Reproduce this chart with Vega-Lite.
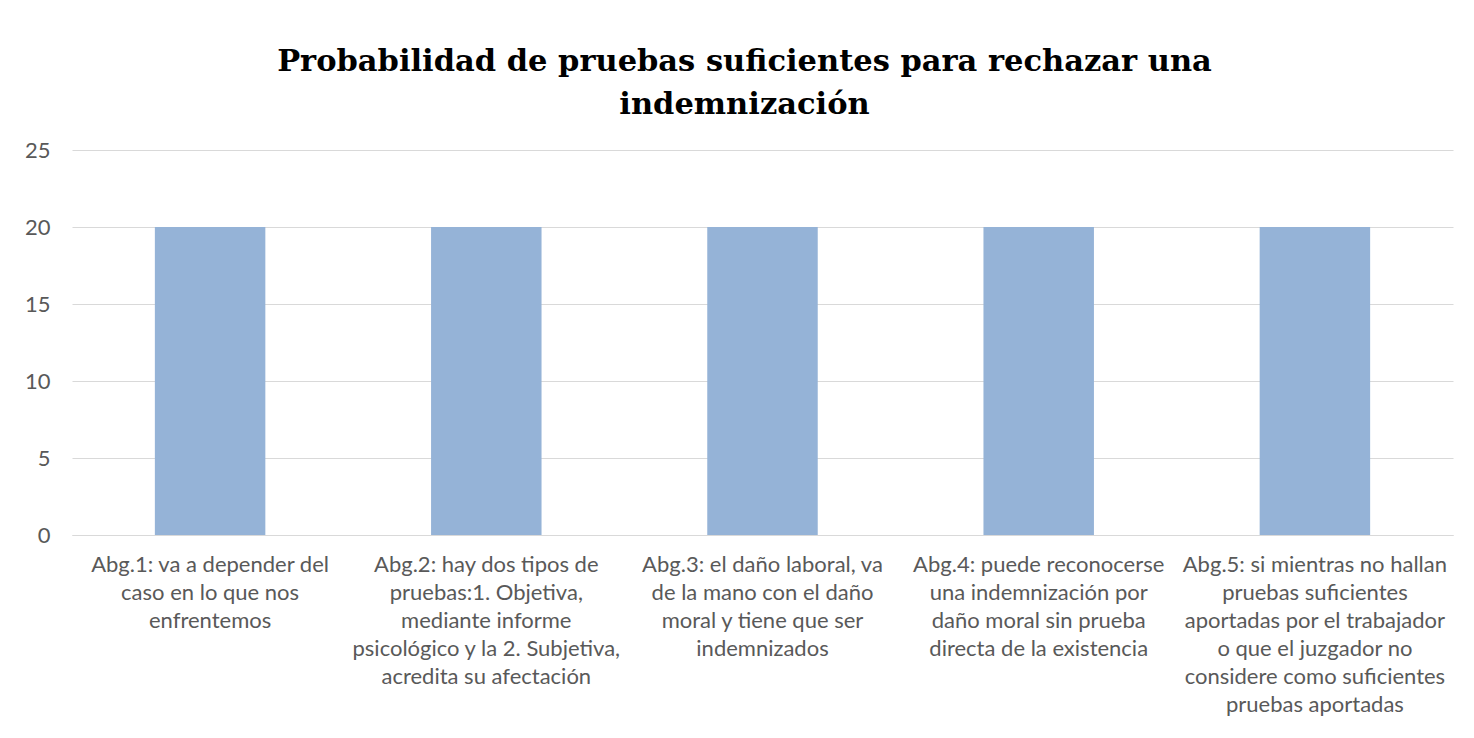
{
  "$schema": "https://vega.github.io/schema/vega-lite/v6.json",
  "width": 1381,
  "height": 385,
  "autosize": {"type": "none"},
  "padding": {"left": 72, "top": 150, "right": 21, "bottom": 203},
  "background": "white",
  "title": {
    "text": ["Probabilidad de pruebas suficientes para rechazar una", "indemnización"],
    "font": "DejaVu Serif",
    "fontSize": 30.5,
    "fontWeight": "bold",
    "color": "#000000",
    "anchor": "middle",
    "frame": "group",
    "dx": -18,
    "offset": -11,
    "lineHeight": 43,
    "baseline": "bottom"
  },
  "data": {
    "values": [
      {"abogado": "Abg.1: va a depender del\ncaso en lo que nos\nenfrentemos", "valor": 20},
      {"abogado": "Abg.2: hay dos tipos de\npruebas:1. Objetiva,\nmediante informe\npsicológico y la 2. Subjetiva,\nacredita su afectación", "valor": 20},
      {"abogado": "Abg.3: el daño laboral, va\nde la mano con el daño\nmoral y tiene que ser\nindemnizados", "valor": 20},
      {"abogado": "Abg.4: puede reconocerse\nuna indemnización por\ndaño moral sin prueba\ndirecta de la existencia", "valor": 20},
      {"abogado": "Abg.5: si mientras no hallan\npruebas suficientes\naportadas por el trabajador\no que el juzgador no\nconsidere como suficientes\npruebas aportadas", "valor": 20}
    ]
  },
  "mark": {"type": "bar", "color": "#95B3D7"},
  "encoding": {
    "x": {
      "field": "abogado",
      "type": "nominal",
      "sort": null,
      "scale": {"paddingInner": 0.6, "paddingOuter": 0.3},
      "axis": {
        "title": null,
        "labelAngle": 0,
        "labelExpr": "split(datum.label, '\\n')",
        "labelFont": "Lato",
        "labelFontSize": 22,
        "labelColor": "#595959",
        "labelLineHeight": 28,
        "labelPadding": 19,
        "labelBaseline": "top",
        "labelLimit": 0,
        "ticks": false,
        "domainColor": "#D9D9D9",
        "domainWidth": 1
      }
    },
    "y": {
      "field": "valor",
      "type": "quantitative",
      "scale": {"domain": [0, 25]},
      "axis": {
        "title": null,
        "values": [0, 5, 10, 15, 20, 25],
        "labelFont": "Lato",
        "labelFontSize": 22,
        "labelColor": "#595959",
        "labelPadding": 22,
        "ticks": false,
        "domain": false,
        "gridColor": "#D9D9D9",
        "gridWidth": 1
      }
    }
  },
  "config": {"view": {"stroke": null}}
}
